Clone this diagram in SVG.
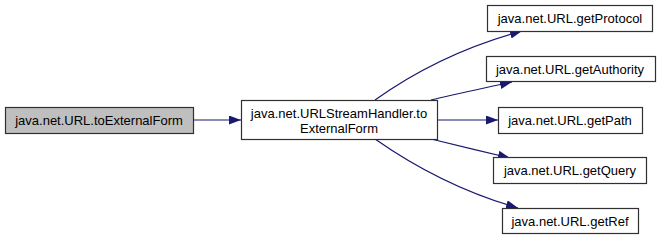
<svg xmlns="http://www.w3.org/2000/svg" width="660" height="240" viewBox="0 0 660 240">
  <style>
    .node rect { fill: #ffffff; stroke: #303030; stroke-width: 1.2; }
    .node.root rect { fill: #bfbfbf; }
    .node text { font-family: "Liberation Sans", Arial, sans-serif; font-size: 13px; fill: #000000; text-anchor: middle; }
    .edge { fill: none; stroke: #191970; stroke-width: 1.2; marker-end: url(#arrow); }
  </style>
  <defs>
    <marker id="arrow" markerUnits="userSpaceOnUse" markerWidth="12" markerHeight="9" refX="12" refY="4.5" orient="auto">
      <path d="M0,0 L12,4.5 L0,9 z" fill="#191970"/>
    </marker>
  </defs>

  <g id="connectors">
    <path class="edge" d="M193,120 L241,120"/>
    <path class="edge" d="M375,100 C403,80 452,50 522,31"/>
    <path class="edge" d="M431,100 C455,94 485,88 512,82"/>
    <path class="edge" d="M437,120 L498,120"/>
    <path class="edge" d="M431,139 C455,145 485,152 510,158"/>
    <path class="edge" d="M375,139 C405,160 455,190 518,208"/>
  </g>

  <g id="node-toExternalForm" class="node root">
    <rect x="5.5" y="107.5" width="188" height="26"/>
    <text x="99" y="125">java.net.URL.toExternalForm</text>
  </g>

  <g id="node-handler" class="node">
    <rect x="241.5" y="100.5" width="196" height="39"/>
    <text x="339" y="118">java.net.URLStreamHandler.to</text>
    <text x="339" y="133">ExternalForm</text>
  </g>

  <g id="node-getProtocol" class="node">
    <rect x="487.5" y="5.5" width="165" height="26"/>
    <text x="570" y="23">java.net.URL.getProtocol</text>
  </g>

  <g id="node-getAuthority" class="node">
    <rect x="486.5" y="56.5" width="169" height="25"/>
    <text x="570" y="73.5">java.net.URL.getAuthority</text>
  </g>

  <g id="node-getPath" class="node">
    <rect x="498.5" y="107.5" width="144" height="26"/>
    <text x="570" y="125">java.net.URL.getPath</text>
  </g>

  <g id="node-getQuery" class="node">
    <rect x="493.5" y="157.5" width="153" height="26"/>
    <text x="570" y="175">java.net.URL.getQuery</text>
  </g>

  <g id="node-getRef" class="node">
    <rect x="502.5" y="208.5" width="136" height="25"/>
    <text x="570" y="225.5">java.net.URL.getRef</text>
  </g>
</svg>
